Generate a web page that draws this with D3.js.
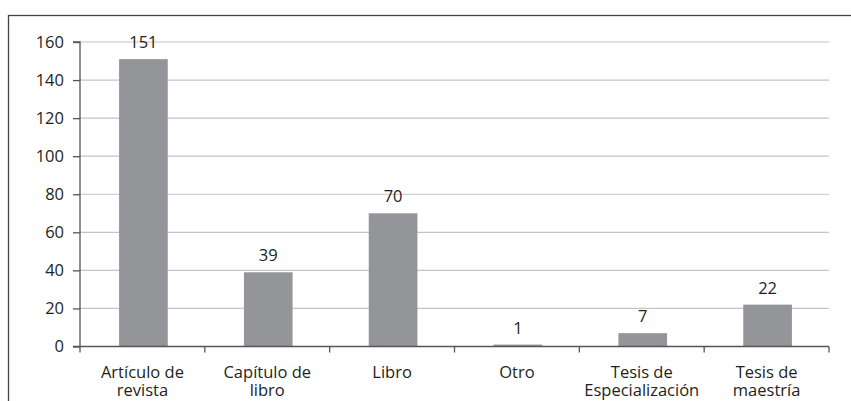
<!DOCTYPE html>
<html><head><meta charset="utf-8">
<script src="https://cdn.jsdelivr.net/npm/d3@7"></script>
<style>body{margin:0;background:#fff;} svg{display:block;}</style>
</head><body>
<svg id="c" width="851" height="401"></svg>
<script>
const categories = [["Artículo de","revista"],["Capítulo de","libro"],["Libro"],["Otro"],["Tesis de","Especialización"],["Tesis de","maestría"]];
const values = [151, 39, 70, 1, 7, 22];
const yTicks = [0, 20, 40, 60, 80, 100, 120, 140, 160];

(function(){
const svg = d3.select("#c");
const font = "'Open Sans', sans-serif";
const fs = 16.5;
const textColor = "#231f20";
const mLeft = 80, mRight = 829, mTop = 42, mBottom = 346.5;

svg.append("rect").attr("x", 8.5).attr("y", 15.5).attr("width", 900).attr("height", 500)
  .attr("fill", "none").attr("stroke", "#444").attr("stroke-width", 1.3);

const x = d3.scaleBand().domain(d3.range(categories.length)).range([mLeft, mRight]).paddingInner(0).paddingOuter(0);
const y = d3.scaleLinear().domain([0, 160]).range([mBottom, mTop]);

// gridlines
svg.append("g").selectAll("line").data(yTicks.filter(d => d > 0)).join("line")
  .attr("x1", mLeft).attr("x2", mRight).attr("y1", d => y(d)).attr("y2", d => y(d))
  .attr("stroke", "#c4c4c4").attr("stroke-width", 1.2);

// bars
const bw = x.bandwidth() * 0.39;
svg.append("g").selectAll("rect").data(values).join("rect")
  .attr("x", (d, i) => x(i) + x.bandwidth() / 2 - bw / 2 + 1)
  .attr("width", bw)
  .attr("y", d => y(d)).attr("height", d => y(0) - y(d))
  .attr("fill", "#939598");

// value labels
svg.append("g").selectAll("text").data(values).join("text")
  .attr("x", (d, i) => x(i) + x.bandwidth() / 2 + 1)
  .attr("y", d => y(d) - 11)
  .attr("text-anchor", "middle").attr("font-family", font).attr("font-size", fs).attr("fill", textColor)
  .text(d => d);

// y axis
const yAxis = d3.axisLeft(y).tickValues(yTicks).tickSize(7).tickPadding(9).tickFormat(d3.format("d"));
const gy = svg.append("g").attr("transform", `translate(${mLeft},0)`).call(yAxis);
gy.select(".domain").attr("stroke", "#555").attr("stroke-width", 1.3).attr("d", `M-7,${mTop}H0V${mBottom}`);
gy.selectAll(".tick line").attr("stroke", "#555").attr("stroke-width", 1.3);
gy.selectAll(".tick text").attr("font-family", font).attr("font-size", fs).attr("fill", textColor);

// x axis
const gx = svg.append("g").attr("transform", `translate(0,${mBottom})`);
gx.append("line").attr("x1", mLeft - 7).attr("x2", mRight).attr("y1", 0).attr("y2", 0)
  .attr("stroke", "#555").attr("stroke-width", 1.3);
const tickPos = d3.range(categories.length + 1).map(i => i < categories.length ? x(i) : x(categories.length - 1) + x.bandwidth());
gx.selectAll("line.t").data(tickPos).join("line").attr("class", "t")
  .attr("x1", d => d).attr("x2", d => d).attr("y1", 0).attr("y2", 6)
  .attr("stroke", "#555").attr("stroke-width", 1.3);
const lbl = gx.selectAll("text.l").data(categories).join("text").attr("class", "l")
  .attr("text-anchor", "middle").attr("font-family", font).attr("font-size", fs).attr("fill", textColor);
lbl.each(function(d, i) {
  const t = d3.select(this);
  d.forEach((line, j) => {
    t.append("tspan").attr("x", x(i) + x.bandwidth() / 2).attr("y", 31.5 + j * 18).text(line);
  });
});
})();
</script>
</body></html>
